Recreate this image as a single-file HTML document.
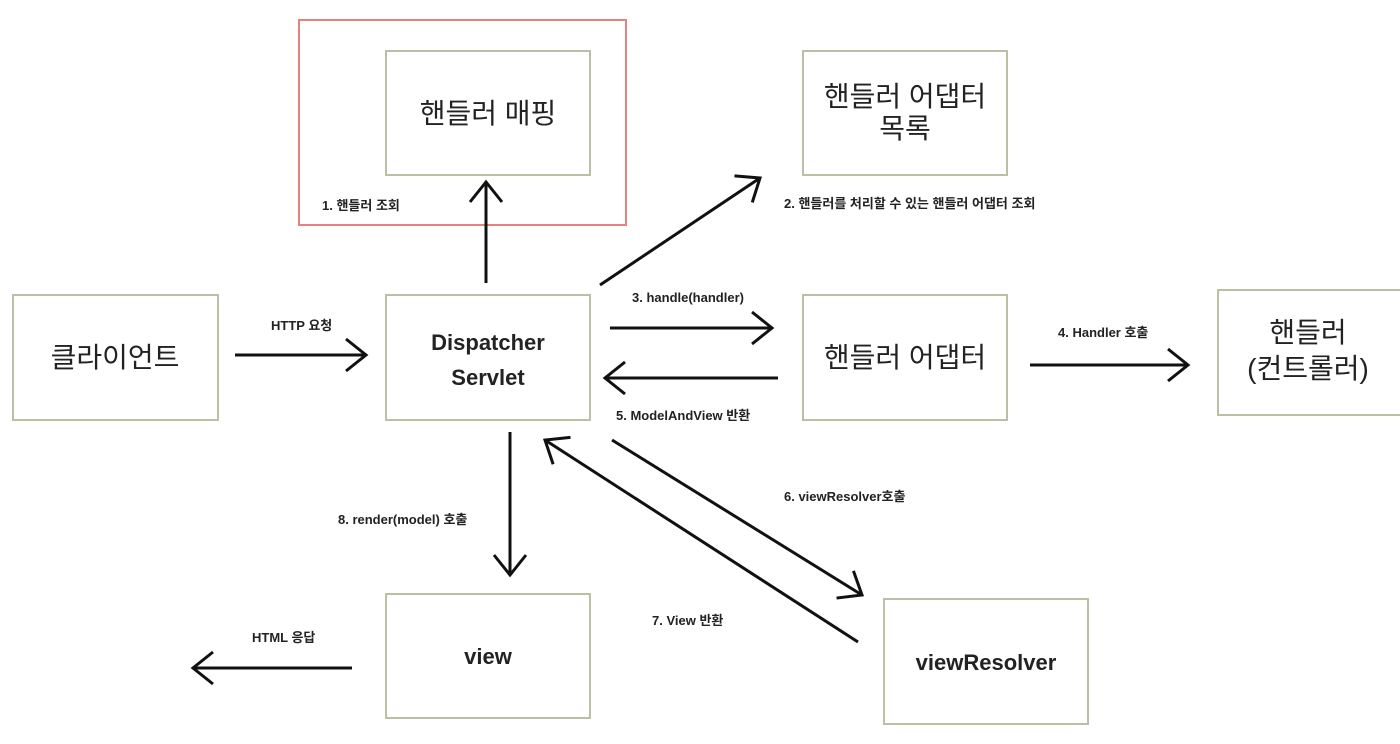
<!DOCTYPE html>
<html><head><meta charset="utf-8"><style>
html,body{margin:0;padding:0;background:#fff;}
svg{display:block}
text{font-family:"Liberation Sans","Noto Sans CJK KR",sans-serif;fill:#222}
.b{fill:#fff;stroke:#b9c0a4;stroke-width:2}
.a{stroke:#111;stroke-width:3;fill:none;marker-end:url(#m)}
.s{font-size:13px;font-weight:bold}
.L{font-size:28px}
.M{font-size:22px;font-weight:bold}
</style></head><body>
<svg width="1400" height="744" viewBox="0 0 1400 744">
<defs><marker id="m" markerUnits="userSpaceOnUse" markerWidth="30" markerHeight="40" refX="22" refY="18" orient="auto"><path d="M2,2 L22,18 L2,34" fill="none" stroke="#111" stroke-width="3"/></marker></defs>
<rect x="299" y="20" width="327" height="205" fill="none" stroke="#e88080" stroke-width="2"/>
<rect class="b" x="386" y="51" width="204" height="124"/>
<text class="L" x="488" y="123" text-anchor="middle">핸들러 매핑</text>
<rect class="b" x="803" y="51" width="204" height="124"/>
<text class="L" x="905" y="106" text-anchor="middle">핸들러 어댑터</text>
<text class="L" x="905" y="138" text-anchor="middle">목록</text>
<rect class="b" x="13" y="295" width="205" height="125"/>
<text class="L" x="115" y="367" text-anchor="middle">클라이언트</text>
<rect class="b" x="386" y="295" width="204" height="125"/>
<text class="M" x="488" y="350" text-anchor="middle">Dispatcher</text>
<text class="M" x="488" y="385" text-anchor="middle">Servlet</text>
<rect class="b" x="803" y="295" width="204" height="125"/>
<text class="L" x="905" y="367" text-anchor="middle">핸들러 어댑터</text>
<rect class="b" x="1218" y="290" width="190" height="125"/>
<text class="L" x="1308" y="342" text-anchor="middle">핸들러</text>
<text class="L" x="1308" y="378" text-anchor="middle">(컨트롤러)</text>
<rect class="b" x="386" y="594" width="204" height="124"/>
<text class="M" x="488" y="664" text-anchor="middle">view</text>
<rect class="b" x="884" y="599" width="204" height="125"/>
<text class="M" x="986" y="670" text-anchor="middle">viewResolver</text>

<path class="a" d="M486,283 L486,182"/>
<path class="a" d="M600,285 L760,178"/>
<path class="a" d="M235,355 L366,355"/>
<path class="a" d="M610,328 L772,328"/>
<path class="a" d="M778,378 L605,378"/>
<path class="a" d="M1030,365 L1188,365"/>
<path class="a" d="M510,432 L510,575"/>
<path class="a" d="M612,440 L862,595"/>
<path class="a" d="M858,642 L545,440"/>
<path class="a" d="M352,668 L193,668"/>

<text class="s" x="322" y="210">1. 핸들러 조회</text>
<text class="s" x="784" y="208">2. 핸들러를 처리할 수 있는 핸들러 어댑터 조회</text>
<text class="s" x="271" y="330">HTTP 요청</text>
<text class="s" x="632" y="302">3. handle(handler)</text>
<text class="s" x="616" y="420">5. ModelAndView 반환</text>
<text class="s" x="1058" y="337">4. Handler 호출</text>
<text class="s" x="784" y="501">6. viewResolver호출</text>
<text class="s" x="338" y="524">8. render(model) 호출</text>
<text class="s" x="652" y="625">7. View 반환</text>
<text class="s" x="252" y="642">HTML 응답</text>
</svg>
</body></html>
